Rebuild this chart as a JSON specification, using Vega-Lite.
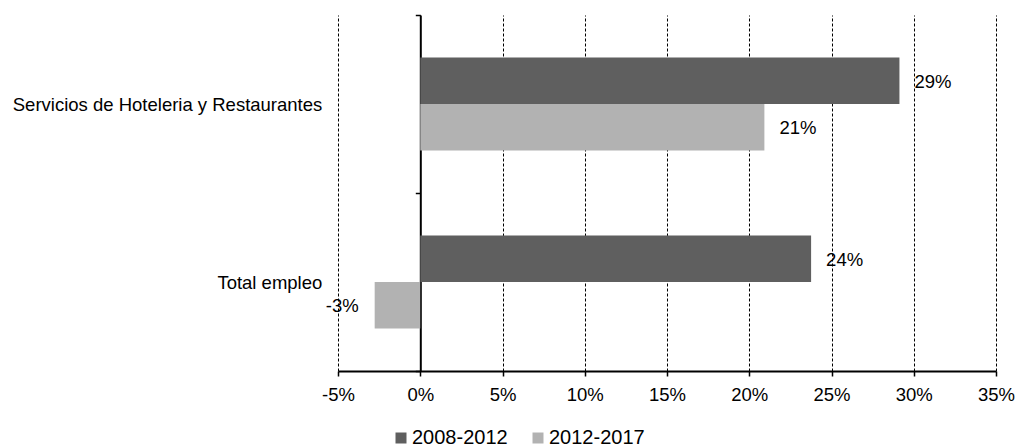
{
  "$schema": "https://vega.github.io/schema/vega-lite/v6.json",
  "width": 658,
  "height": 356,
  "autosize": {"type": "none"},
  "padding": {"left": 338, "top": 15, "right": 19, "bottom": 76},
  "background": "white",
  "config": {
    "view": {"stroke": null},
    "font": "Liberation Sans",
    "axis": {"labelFont": "Liberation Sans", "labelColor": "#000000"},
    "locale": {"number": {"decimal": ".", "thousands": ",", "grouping": [3], "currency": ["$", ""], "minus": "-"}}
  },
  "data": {
    "values": [
      {"categoria": "Servicios de Hoteleria y Restaurantes", "periodo": "2008-2012", "valor": 0.2913},
      {"categoria": "Servicios de Hoteleria y Restaurantes", "periodo": "2012-2017", "valor": 0.2092},
      {"categoria": "Total empleo", "periodo": "2008-2012", "valor": 0.2376},
      {"categoria": "Total empleo", "periodo": "2012-2017", "valor": -0.0277}
    ]
  },
  "encoding": {
    "y": {
      "field": "categoria",
      "type": "nominal",
      "sort": null,
      "scale": {"paddingInner": 0, "paddingOuter": 0},
      "axis": {
        "title": null,
        "offset": -82.3,
        "domainColor": "#000000",
        "domainWidth": 2,
        "tickColor": "#000000",
        "tickWidth": 1.5,
        "tickSize": 5,
        "tickBand": "extent",
        "labelPadding": 93.5,
        "labelFontSize": 18.5,
        "labelLimit": 400,
        "grid": false
      }
    },
    "yOffset": {
      "field": "periodo",
      "type": "nominal",
      "sort": ["2008-2012", "2012-2017"],
      "scale": {"paddingInner": 0, "paddingOuter": 0.917}
    },
    "x": {
      "field": "valor",
      "type": "quantitative",
      "scale": {"domain": [-0.05, 0.35], "nice": false, "zero": false},
      "axis": {
        "title": null,
        "values": [-0.05, 0, 0.05, 0.1, 0.15, 0.2, 0.25, 0.3, 0.35],
        "format": ".0%",
        "grid": true,
        "gridColor": "#000000",
        "gridDash": [3, 2],
        "gridWidth": 1,
        "domainColor": "#000000",
        "domainWidth": 2,
        "tickColor": "#000000",
        "tickWidth": 1.5,
        "tickSize": 5,
        "labelPadding": 9,
        "labelFontSize": 18.5,
        "labelFlush": false
      }
    }
  },
  "layer": [
    {
      "mark": {"type": "bar"},
      "encoding": {
        "color": {
          "field": "periodo",
          "type": "nominal",
          "scale": {"domain": ["2008-2012", "2012-2017"], "range": ["#5f5f5f", "#b2b2b2"]},
          "legend": {
            "title": null,
            "orient": "none",
            "direction": "horizontal",
            "legendX": 53,
            "legendY": 413,
            "symbolType": "square",
            "symbolSize": 121,
            "symbolStrokeWidth": 0,
            "labelFontSize": 20,
            "labelFont": "Liberation Sans",
            "labelColor": "#000000",
            "labelOffset": 1,
            "columnPadding": 20
          }
        }
      }
    },
    {
      "transform": [{"filter": "datum.valor >= 0"}],
      "mark": {"type": "text", "align": "left", "baseline": "middle", "dx": 15, "dy": 1, "fontSize": 18.5, "font": "Liberation Sans", "color": "#000000"},
      "encoding": {"text": {"field": "valor", "type": "quantitative", "format": ".0%"}}
    },
    {
      "transform": [{"filter": "datum.valor < 0"}],
      "mark": {"type": "text", "align": "right", "baseline": "middle", "dx": -16, "dy": 1, "fontSize": 18.5, "font": "Liberation Sans", "color": "#000000"},
      "encoding": {"text": {"field": "valor", "type": "quantitative", "format": ".0%"}}
    }
  ]
}
